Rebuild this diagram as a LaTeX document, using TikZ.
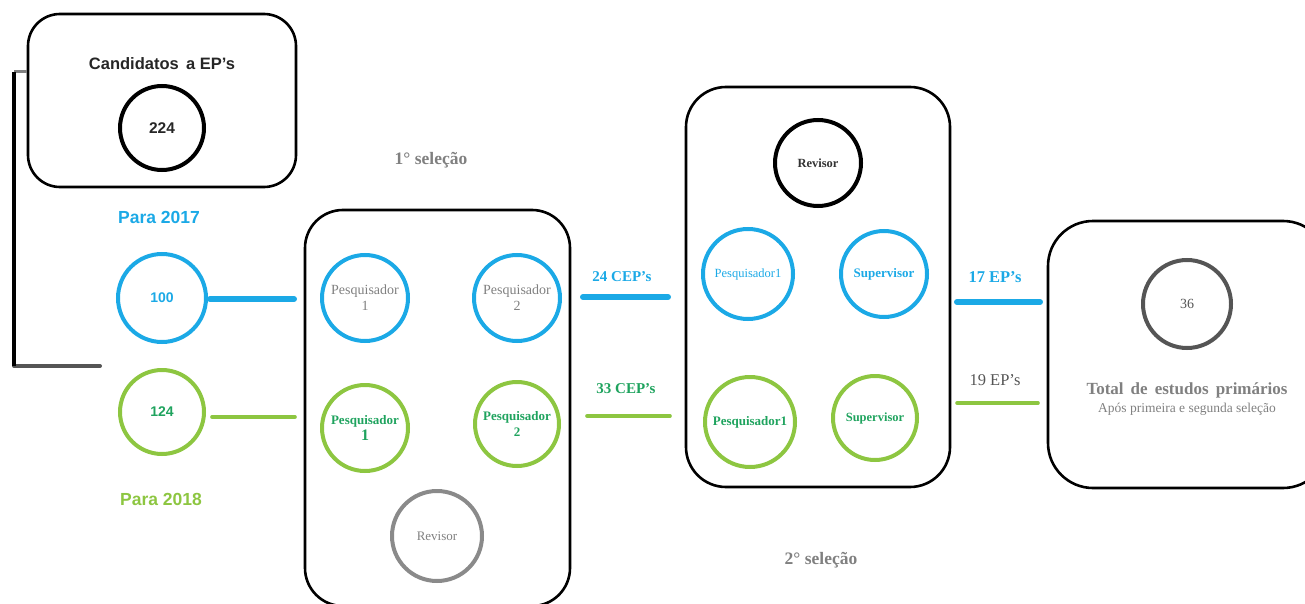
\documentclass[tikz,border=0pt]{standalone}
\usepackage{fontspec}
\setmainfont{Liberation Serif}
\setsansfont{Liberation Sans}
\definecolor{cblue}{HTML}{1BA9E6}
\definecolor{cgreen}{HTML}{8DC641}
\definecolor{tgreen}{HTML}{1FA35E}
\definecolor{tgray}{HTML}{808080}
\definecolor{cgray}{HTML}{8A8A8A}
\definecolor{dgray}{HTML}{555555}
\begin{document}
\begin{tikzpicture}[x=1pt,y=-1pt,
  frame/.style={draw=black,line width=2.6pt,rounded corners=32pt,inner sep=0pt},
  ring/.style={circle,line width=4pt,inner sep=0pt,align=center,font=\fontsize{12}{13}\selectfont},
  bluering/.style={ring,draw=cblue},
  greenring/.style={ring,draw=cgreen},
  bline/.style={draw=cblue,line width=6pt,line cap=round},
  gline/.style={draw=cgreen,line width=3.6pt,line cap=round},
  lab/.style={font=\bfseries\fontsize{15}{17}\selectfont},
]
\useasboundingbox (0,0) rectangle (1305,604);
% boxes
\node[frame,minimum width=268pt,minimum height=173pt] (box1) at (162,100.5) {};
\node[frame,minimum width=265pt,minimum height=396pt,rounded corners=38pt] (box2) at (437.5,408) {};
\node[frame,minimum width=264pt,minimum height=400pt,rounded corners=40pt] (box3) at (818,287) {};
\node[frame,minimum width=280pt,minimum height=267pt,rounded corners=45pt] (box4) at (1188,354.5) {};
% box 1 content
\node[font=\sffamily\bfseries\fontsize{16.5}{18}\selectfont,text=black!85] (cand) at (162,64) {Candidatos\, a EP’s};
\node[ring,draw=black,minimum size=84pt,font=\sffamily\bfseries\fontsize{15.5}{16}\selectfont,text=black!85] (c224) at (162,128) {224};
% left bracket
\coordinate (bt) at (14,72);
\coordinate (bb) at (14,366);
\coordinate (be) at (100,366);
\coordinate (bs) at (box1.west |- bt);
\draw[draw=tgray,line width=3pt] (bt) -- (bs);
\draw[draw=dgray,line width=4pt,line cap=round] (bb) -- (be);
\draw[draw=black,line width=4.5pt] (bt) -- (bb);
% years
\node[font=\sffamily\bfseries\fontsize{17.5}{19}\selectfont,text=cblue] (p17) at (159,217) {Para 2017};
\node[bluering,minimum size=88pt,text=cblue,font=\sffamily\bfseries\fontsize{14}{15}\selectfont] (c100) at (162,298) {100};
\node[greenring,minimum size=84pt,text=tgreen,font=\sffamily\bfseries\fontsize{14}{15}\selectfont] (c124) at (162,412) {124};
\node[font=\sffamily\bfseries\fontsize{17.5}{19}\selectfont,text=cgreen] (p18) at (161,499) {Para 2018};
% box 2 content
\node[bluering,minimum size=86pt,text=tgray,font=\fontsize{14}{16}\selectfont] (p1b) at (365,298) {Pesquisador\\1};
\node[bluering,minimum size=86pt,text=tgray,font=\fontsize{14}{16}\selectfont] (p2b) at (517,298) {Pesquisador\\2};
\node[greenring,minimum size=86pt,text=tgreen,font=\bfseries\fontsize{13}{16}\selectfont] (p1g) at (365,428) {Pesquisador\\{\fontsize{16}{16}\selectfont 1}};
\node[greenring,minimum size=84pt,text=tgreen,font=\bfseries\fontsize{13}{16}\selectfont] (p2g) at (517,424) {Pesquisador\\2};
\node[ring,draw=cgray,minimum size=90pt,text=tgray,font=\fontsize{13}{14}\selectfont] (rev1) at (437,536) {Revisor};
\node[lab,font=\bfseries\fontsize{17.5}{19}\selectfont,text=tgray] (sel1) at (431,160) {1° seleção};
% box 3 content
\node[ring,draw=black,minimum size=86pt,font=\bfseries\fontsize{12.5}{14}\selectfont,text=black!80] (rev2) at (818,163) {Revisor};
\node[bluering,minimum size=90pt,text=cblue,font=\fontsize{12.5}{14}\selectfont] (q1b) at (748,274) {Pesquisador1};
\node[bluering,minimum size=86pt,text=cblue,font=\bfseries\fontsize{13}{14}\selectfont] (sb) at (884,274) {Supervisor};
\node[greenring,minimum size=90pt,text=tgreen,font=\bfseries\fontsize{13}{14}\selectfont] (q1g) at (750,422) {Pesquisador1};
\node[greenring,minimum size=84pt,text=tgreen,font=\bfseries\fontsize{12.5}{14}\selectfont] (sg) at (875,418) {Supervisor};
\node[lab,font=\bfseries\fontsize{17.5}{19}\selectfont,text=tgray] (sel2) at (821,560) {2° seleção};
% box 4 content
\node[ring,draw=dgray,minimum size=88pt,text=dgray,font=\fontsize{14}{15}\selectfont] (c36) at (1187,304) {36};
\node[text=tgray,inner sep=0pt,font=\bfseries\fontsize{17}{18}\selectfont] (tot) at (1187,390) {Total\, de\, estudos\, primários};
\node[text=tgray,inner sep=0pt,font=\fontsize{13.5}{14}\selectfont] (tot2) at (1187,409) {Após primeira e segunda seleção};
% connectors
\coordinate (a1) at (210,299); \coordinate (a2) at (294,299);
\draw[bline] (a1) -- (a2);
\coordinate (g1) at (212,417); \coordinate (g2) at (295,417);
\draw[gline] (g1) -- (g2);
\coordinate (b1) at (583,297); \coordinate (b2) at (668,297);
\draw[bline] (b1) -- (b2);
\node[lab,text=cblue] (l24) at (622,277) {24 CEP’s};
\coordinate (h1) at (587,416); \coordinate (h2) at (670,416);
\draw[gline] (h1) -- (h2);
\node[lab,text=tgreen] (l33) at (626,389) {33 CEP’s};
\coordinate (d1) at (957,302); \coordinate (d2) at (1040,302);
\draw[bline] (d1) -- (d2);
\node[lab,font=\bfseries\fontsize{16.5}{18}\selectfont,text=cblue] (l17) at (995,277) {17 EP’s};
\coordinate (e1) at (957,403); \coordinate (e2) at (1038,403);
\draw[gline] (e1) -- (e2);
\node[font=\fontsize{16.5}{18}\selectfont,text=dgray] (l19) at (995,380) {19 EP’s};
\end{tikzpicture}
\end{document}
